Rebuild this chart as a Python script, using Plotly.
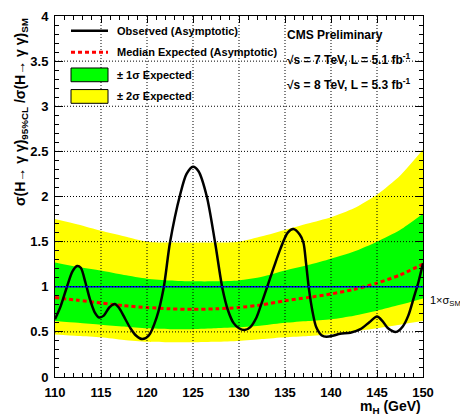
import plotly.graph_objects as go

# Observed 95% CL upper limit on sigma/sigma_SM versus Higgs mass
mass_obs = [110.0, 110.6, 111.3, 111.9, 112.4, 112.8, 113.3, 113.8, 114.3, 114.8,
            115.3, 115.9, 116.5, 117.0, 117.6, 118.2, 118.8, 119.5, 120.2, 121.05,
            121.8, 122.5, 123.6, 124.3, 125.0, 125.6, 126.5, 127.4, 128.2, 128.8,
            129.4, 130.0, 130.6, 131.2, 131.9, 132.5, 133.0, 133.8, 134.5, 135.3,
            135.9, 136.6, 137.0, 137.3, 137.6, 138.0, 138.4, 139.0, 139.5, 140.3,
            141.0, 142.1, 143.2, 144.2, 145.0, 145.6, 146.2, 147.1, 147.8, 148.4,
            149.0, 149.5, 150.0]
limit_obs = [0.64, 0.78, 1.00, 1.17, 1.23, 1.21, 1.05, 0.86, 0.72, 0.66,
             0.68, 0.77, 0.81, 0.76, 0.65, 0.54, 0.46, 0.42, 0.46, 0.66,
             0.98, 1.49, 2.02, 2.25, 2.33, 2.28, 2.00, 1.49, 0.98, 0.74,
             0.60, 0.54, 0.52, 0.55, 0.66, 0.83, 0.98, 1.22, 1.42, 1.60,
             1.64, 1.58, 1.49, 1.25, 0.98, 0.72, 0.55, 0.46, 0.445, 0.46,
             0.48, 0.49, 0.53, 0.61, 0.67, 0.62, 0.54, 0.50, 0.56, 0.68,
             0.88, 1.05, 1.26]

# Expected limit: median and 1 / 2 sigma bands
mass_exp = [110.0, 112.5, 115.0, 117.5, 120.0, 122.5, 125.0, 127.5, 130.0,
            132.5, 135.0, 137.5, 140.0, 142.5, 145.0, 147.5, 150.0]
exp_median = [0.88, 0.85, 0.82, 0.79, 0.77, 0.755, 0.75, 0.755, 0.77,
              0.80, 0.845, 0.88, 0.92, 0.97, 1.04, 1.13, 1.25]
exp_p2s = [1.75, 1.69, 1.62, 1.56, 1.50, 1.49, 1.49, 1.49, 1.50,
           1.56, 1.63, 1.70, 1.77, 1.87, 2.02, 2.23, 2.52]
exp_p1s = [1.27, 1.22, 1.18, 1.13, 1.09, 1.07, 1.06, 1.06, 1.07,
           1.11, 1.18, 1.24, 1.31, 1.39, 1.50, 1.63, 1.81]
exp_m1s = [0.62, 0.60, 0.58, 0.56, 0.54, 0.53, 0.53, 0.54, 0.55,
           0.57, 0.60, 0.62, 0.64, 0.68, 0.735, 0.80, 0.87]
exp_m2s = [0.47, 0.455, 0.44, 0.41, 0.39, 0.385, 0.385, 0.39, 0.40,
           0.42, 0.44, 0.455, 0.475, 0.505, 0.54, 0.58, 0.62]

x_ticks = [110, 115, 120, 125, 130, 135, 140, 145, 150]
y_ticks = [0, 0.5, 1, 1.5, 2, 2.5, 3, 3.5, 4]
sm_ratio = 1.0

legend_labels = ["Observed (Asymptotic)", "Median Expected (Asymptotic)",
                 "\u00b1 1\u03c3 Expected", "\u00b1 2\u03c3 Expected"]

FONT = "Liberation Sans, Arial, sans-serif"
YELLOW = "#ffff00"
GREEN = "#00ff00"

W, H = 460, 419
L, R, T, B = 55, 37, 9, 42
PW, PH = W - L - R, H - T - B


def px(xp):
    return (xp - L) / PW


def py(yp):
    return (H - B - yp) / PH


fig = go.Figure()

band = dict(mode="lines", line=dict(width=0, shape="spline", smoothing=0.6),
            showlegend=False, hoverinfo="skip")
fig.add_trace(go.Scatter(x=mass_exp, y=exp_m2s, **band))
fig.add_trace(go.Scatter(x=mass_exp, y=exp_p2s, fill="tonexty", fillcolor=YELLOW, **band))
fig.add_trace(go.Scatter(x=mass_exp, y=exp_m1s, **band))
fig.add_trace(go.Scatter(x=mass_exp, y=exp_p1s, fill="tonexty", fillcolor=GREEN, **band))

fig.add_trace(go.Scatter(x=mass_exp, y=exp_median, mode="lines", showlegend=False,
                         line=dict(color="#ff0000", width=3, dash="4px,3px",
                                   shape="spline", smoothing=0.6)))
fig.add_trace(go.Scatter(x=mass_obs, y=limit_obs, mode="lines", showlegend=False,
                         line=dict(color="black", width=2.5, shape="spline", smoothing=0.8)))

shapes = []
# SM reference line
shapes.append(dict(type="line", xref="paper", yref="y", x0=0, x1=1,
                   y0=sm_ratio, y1=sm_ratio, line=dict(color="#0000ff", width=1.5),
                   layer="above"))
# dotted grid drawn over the bands
grid_line = dict(color="black", width=1, dash="1px,2px")
for xv in x_ticks[1:-1]:
    shapes.append(dict(type="line", xref="x", yref="paper", x0=xv, x1=xv, y0=0, y1=1,
                       line=grid_line, layer="above"))
for yv in y_ticks[1:-1]:
    shapes.append(dict(type="line", xref="paper", yref="y", x0=0, x1=1, y0=yv, y1=yv,
                       line=grid_line, layer="above"))

# legend samples
shapes.append(dict(type="line", xref="paper", yref="paper", x0=px(71), x1=px(108),
                   y0=py(24), y1=py(24), line=dict(color="black", width=2.5)))
shapes.append(dict(type="line", xref="paper", yref="paper", x0=px(71), x1=px(108),
                   y0=py(46), y1=py(46), line=dict(color="#ff0000", width=3, dash="4px,3px")))
shapes.append(dict(type="rect", xref="paper", yref="paper", x0=px(71), x1=px(108),
                   y0=py(76), y1=py(62), fillcolor=GREEN, line=dict(color="black", width=1)))
shapes.append(dict(type="rect", xref="paper", yref="paper", x0=px(71), x1=px(108),
                   y0=py(98), y1=py(84), fillcolor=YELLOW, line=dict(color="black", width=1)))

annotations = []
for label, yc in zip(legend_labels, [24, 46, 69, 91]):
    annotations.append(dict(text="<b>" + label + "</b>", xref="paper", yref="paper",
                            x=px(115), y=py(yc), xanchor="left", yanchor="middle",
                            showarrow=False, font=dict(family=FONT, size=11, color="black")))

info_lines = ["<b>CMS Preliminary</b>",
              "<b>\u221as = 7 TeV, L = 5.1 fb<sup>-1</sup></b>",
              "<b>\u221as = 8 TeV, L = 5.3 fb<sup>-1</sup></b>"]
for text, yc in zip(info_lines, [28, 53, 78]):
    annotations.append(dict(text=text, xref="paper", yref="paper", x=px(285), y=py(yc),
                            xanchor="left", yanchor="middle", showarrow=False,
                            font=dict(family=FONT, size=12, color="black")))

annotations.append(dict(text="1\u00d7\u03c3<sub>SM</sub>", xref="paper", yref="y",
                        x=px(428), y=0.84, xanchor="left", yanchor="middle",
                        showarrow=False, font=dict(family=FONT, size=11, color="black")))

annotations.append(dict(text="<b>\u03c3(H\u2192 \u03b3 \u03b3)<sub>95%CL</sub> /\u03c3(H\u2192 \u03b3 \u03b3)<sub>SM</sub></b>",
                        xref="paper", yref="paper", x=px(21), y=1.0, textangle=-90,
                        xanchor="center", yanchor="top", showarrow=False,
                        font=dict(family=FONT, size=14, color="black")))
annotations.append(dict(text="<b>m<sub>H</sub> (GeV)</b>", xref="paper", yref="paper",
                        x=1.0, y=py(408), xanchor="right", yanchor="middle",
                        showarrow=False, font=dict(family=FONT, size=14, color="black")))

axis_common = dict(showline=True, linecolor="black", linewidth=1, mirror="allticks",
                   ticks="inside", tickcolor="black", showgrid=False, zeroline=False,
                   tickfont=dict(family=FONT, size=13, color="black", weight="bold"))

fig.update_layout(
    width=W, height=H,
    margin=dict(l=L, r=R, t=T, b=B, pad=0),
    paper_bgcolor="white", plot_bgcolor="white",
    showlegend=False,
    xaxis=dict(range=[110, 150], tickvals=x_ticks, ticklen=7,
               minor=dict(dtick=1, ticks="inside", ticklen=4, tickcolor="black", showgrid=False),
               ticklabelstandoff=3, **axis_common),
    yaxis=dict(range=[0, 4], tickvals=y_ticks, ticklen=8,
               minor=dict(dtick=0.1, ticks="inside", ticklen=4, tickcolor="black", showgrid=False),
               ticklabelstandoff=3, **axis_common),
    shapes=shapes,
    annotations=annotations,
)

fig.write_html("out.html")
